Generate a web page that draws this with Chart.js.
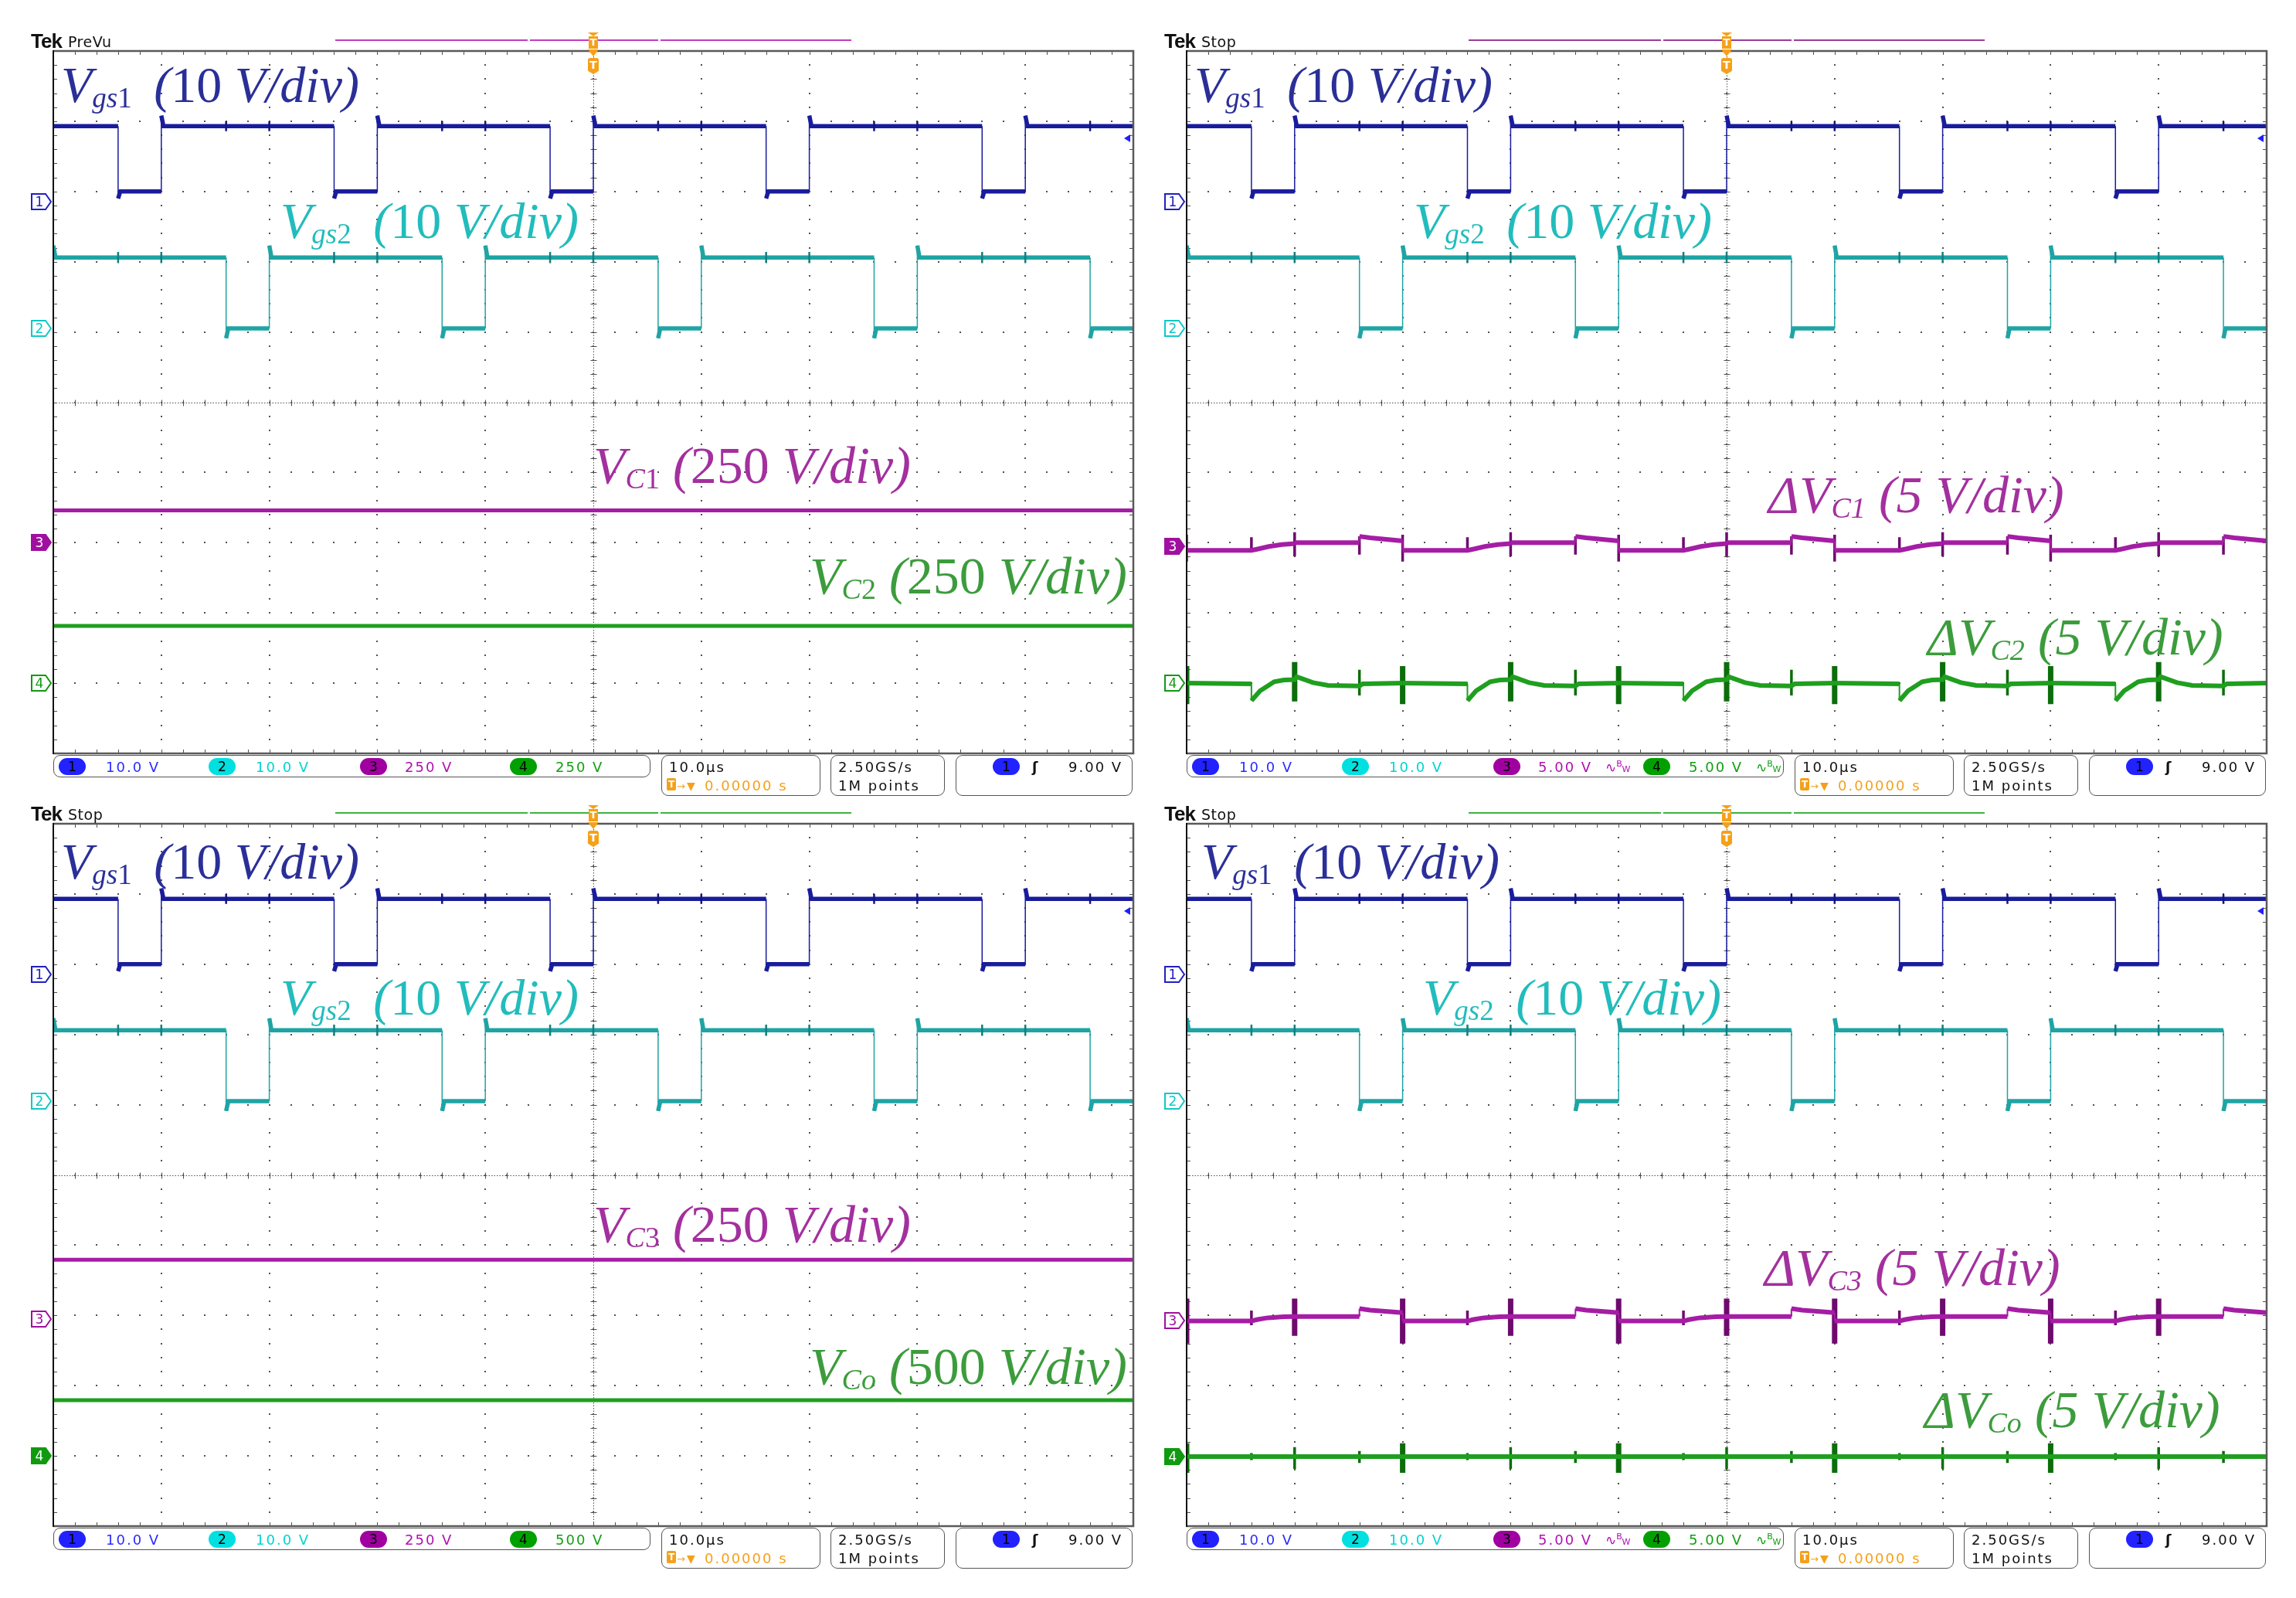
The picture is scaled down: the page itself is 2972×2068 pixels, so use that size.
<!DOCTYPE html>
<html>
<head>
<meta charset="utf-8">
<script src="https://cdn.jsdelivr.net/npm/chart.js@4.4.1/dist/chart.umd.min.js"></script>
<style>
  body { margin: 0; background: #fff; width: 2972px; height: 2068px; position: relative; overflow: hidden; font-family: "DejaVu Sans", sans-serif; }
  canvas { position: absolute; }
  .lbl { font-family: "Liberation Serif", "Times New Roman", serif; font-style: italic; }
  .lbl .up { font-style: normal; }
  .lbl .sb { font-size: 0.56em; position: relative; top: 0.2em; }
  .lbl .gap { margin-left: 12px; }
  .box { position: absolute; border: 1.5px solid #555; border-radius: 9px; box-sizing: border-box; background: #fff; }
  .pill { position: absolute; width: 35px; height: 22px; border-radius: 11px; font-size: 17px; line-height: 22px; text-align: center; color: #000; }
</style>
</head>
<body>
<script>
// time base 10 us/div with the trigger at the centre, 10 x 10 divisions
const xSpan = [-50, 50];
const ySpan = [0, 10];

// gate signals, identical in the four captures (us)
const vgs1Fall = [-44, -24, -4, 16, 36];
const vgs1Rise = [-40, -20, 0, 20, 40];
const vgs2Fall = [-34, -14, 6, 26, 46];
const vgs2Rise = [-50, -30, -10, 10, 30, 50];
const vgs1Levels = [10.7, 1.4];          // high, low (V)
const vgs2Levels = [10.1, 0];
const vgs1Ring = [12.2, 0.4];            // peak after rise, dip after fall (V)
const vgs2Ring = [11.8, -1.4];
const vgs1GlitchTimes = [-34, -30, -14, -10, 6, 10, 26, 30, 46];
const vgs1GlitchSpan = [11.4, 10.0];
const vgs2GlitchTimes = [-44, -40, -24, -20, -4, 0, 16, 20, 36, 40];
const vgs2GlitchSpan = [10.9, 9.3];

// capacitor voltages (V)
const vC1 = 115;
const vC2 = 204;
const vC3 = 211;
const vCo = 396;

// ripple of C1 (V, 5 V/div)
const dVC1 = [
  [-50, -0.3], [-44, -0.3], [-43.4, -0.2], [-42.4, -0.02], [-41.2, 0.12], [-40, 0.18], [-40, 0.25], [-34, 0.25], [-34, 0.7], [-33, 0.6], [-30, 0.38],
  [-30, -0.3], [-24, -0.3], [-23.4, -0.2], [-22.4, -0.02], [-21.2, 0.12], [-20, 0.18], [-20, 0.25], [-14, 0.25], [-14, 0.7], [-13, 0.6], [-10, 0.38],
  [-10, -0.3], [-4, -0.3], [-3.4, -0.2], [-2.4, -0.02], [-1.2, 0.12], [0, 0.18], [0, 0.25], [6, 0.25], [6, 0.7], [7, 0.6], [10, 0.38],
  [10, -0.3], [16, -0.3], [16.6, -0.2], [17.6, -0.02], [18.8, 0.12], [20, 0.18], [20, 0.25], [26, 0.25], [26, 0.7], [27, 0.6], [30, 0.38],
  [30, -0.3], [36, -0.3], [36.6, -0.2], [37.6, -0.02], [38.8, 0.12], [40, 0.18], [40, 0.25], [46, 0.25], [46, 0.7], [47, 0.6], [50, 0.38]
];
const dVC1Spikes = [
  [-50, 0.82, -1.1], [-44, 0.64, -0.3], [-40, 1.0, -0.73], [-34, 0.7, -0.6],
  [-30, 0.82, -1.1], [-24, 0.64, -0.3], [-20, 1.0, -0.73], [-14, 0.7, -0.6],
  [-10, 0.82, -1.1], [-4, 0.64, -0.3], [0, 1.0, -0.73], [6, 0.7, -0.6],
  [10, 0.82, -1.1], [16, 0.64, -0.3], [20, 1.0, -0.73], [26, 0.7, -0.6],
  [30, 0.82, -1.1], [36, 0.64, -0.3], [40, 1.0, -0.73], [46, 0.7, -0.6]
];

// ripple of C2 (V, 5 V/div)
const dVC2 = [
  [-50, 0], [-44, -0.05], [-44, -1.25], [-43.2, -0.55], [-42.5, -0.2], [-41.9, 0.1], [-41, 0.22], [-40, 0.25], [-39.8, 0.45], [-38.3, 0.04], [-36.9, -0.16], [-34, -0.2], [-33.7, -0.05], [-30, 0],
  [-30, 0], [-24, -0.05], [-24, -1.25], [-23.2, -0.55], [-22.5, -0.2], [-21.9, 0.1], [-21, 0.22], [-20, 0.25], [-19.8, 0.45], [-18.3, 0.04], [-16.9, -0.16], [-14, -0.2], [-13.7, -0.05], [-10, 0],
  [-10, 0], [-4, -0.05], [-4, -1.25], [-3.2, -0.55], [-2.5, -0.2], [-1.9, 0.1], [-1, 0.22], [0, 0.25], [0.2, 0.45], [1.7, 0.04], [3.1, -0.16], [6, -0.2], [6.3, -0.05], [10, 0],
  [10, 0], [16, -0.05], [16, -1.25], [16.8, -0.55], [17.5, -0.2], [18.1, 0.1], [19, 0.22], [20, 0.25], [20.2, 0.45], [21.7, 0.04], [23.1, -0.16], [26, -0.2], [26.3, -0.05], [30, 0],
  [30, 0], [36, -0.05], [36, -1.25], [36.8, -0.55], [37.5, -0.2], [38.1, 0.1], [39, 0.22], [40, 0.25], [40.2, 0.45], [41.7, 0.04], [43.1, -0.16], [46, -0.2], [46.3, -0.05], [50, 0]
];
const dVC2Spikes = [
  [-50, 1.22, -1.5], [-40, 1.5, -1.3], [-34, 0.95, -0.88],
  [-30, 1.22, -1.5], [-20, 1.5, -1.3], [-14, 0.95, -0.88],
  [-10, 1.22, -1.5], [0, 1.5, -1.3], [6, 0.95, -0.88],
  [10, 1.22, -1.5], [20, 1.5, -1.3], [26, 0.95, -0.88],
  [30, 1.22, -1.5], [40, 1.5, -1.3], [46, 0.95, -0.88]
];

// ripple of C3 (V, 5 V/div)
const dVC3 = [
  [-50, -0.05], [-44, -0.05], [-43.5, 0.05], [-42.5, 0.18], [-41, 0.25], [-40, 0.27], [-34, 0.27], [-34, 0.83], [-33, 0.72], [-30, 0.55],
  [-30, -0.05], [-24, -0.05], [-23.5, 0.05], [-22.5, 0.18], [-21, 0.25], [-20, 0.27], [-14, 0.27], [-14, 0.83], [-13, 0.72], [-10, 0.55],
  [-10, -0.05], [-4, -0.05], [-3.5, 0.05], [-2.5, 0.18], [-1, 0.25], [0, 0.27], [6, 0.27], [6, 0.83], [7, 0.72], [10, 0.55],
  [10, -0.05], [16, -0.05], [16.5, 0.05], [17.5, 0.18], [19, 0.25], [20, 0.27], [26, 0.27], [26, 0.83], [27, 0.72], [30, 0.55],
  [30, -0.05], [36, -0.05], [36.5, 0.05], [37.5, 0.18], [39, 0.25], [40, 0.27], [46, 0.27], [46, 0.83], [47, 0.72], [50, 0.55]
];
const dVC3Spikes = [
  [-50, 1.55, -1.65], [-44, 0.7, -0.35], [-40, 1.55, -1.1],
  [-30, 1.55, -1.65], [-24, 0.7, -0.35], [-20, 1.55, -1.1],
  [-10, 1.55, -1.65], [-4, 0.7, -0.35], [0, 1.55, -1.1],
  [10, 1.55, -1.65], [16, 0.7, -0.35], [20, 1.55, -1.1],
  [30, 1.55, -1.65], [36, 0.7, -0.35], [40, 1.55, -1.1]
];

// ripple of Co (V, 5 V/div)
const dVCo = [[-50, 0], [50, 0]];
const dVCoSpikes = [
  [-50, 0.95, -1.15], [-44, 0.25, -0.25], [-40, 0.68, -0.88], [-34, 0.4, -0.46],
  [-30, 0.95, -1.15], [-24, 0.25, -0.25], [-20, 0.68, -0.88], [-14, 0.4, -0.46],
  [-10, 0.95, -1.15], [-4, 0.25, -0.25], [0, 0.68, -0.88], [6, 0.4, -0.46],
  [10, 0.95, -1.15], [16, 0.25, -0.25], [20, 0.68, -0.88], [26, 0.4, -0.46],
  [30, 0.95, -1.15], [36, 0.25, -0.25], [40, 0.68, -0.88], [46, 0.4, -0.46]
];

// ---- helpers ----
function gateTrace(falls, rises, levels, ring) {
  const [hi, lo] = levels;
  const edges = falls.map(t => [t, false]).concat(rises.map(t => [t, true])).sort((a, b) => a[0] - b[0]);
  const pts = [];
  if (edges[0][0] > xSpan[0]) pts.push([xSpan[0], edges[0][1] ? lo : hi]);
  edges.forEach(([t, up]) => {
    if (t > xSpan[0]) pts.push([t, up ? lo : hi]);
    pts.push([t, up ? ring[0] : ring[1]]);
    pts.push([t + 0.2, up ? hi : lo]);
  });
  const last = edges[edges.length - 1];
  if (last[0] < xSpan[1]) pts.push([xSpan[1], last[1] ? hi : lo]);
  return pts;
}
function spikeTrace(list) {
  const out = [];
  list.forEach(([t, a, b]) => out.push([t, a], [t, b], [t, null]));
  return out;
}
function flat(v) { return [[xSpan[0], v], [xSpan[1], v]]; }
function toDiv(pts, ch) {
  const [perDiv, offset] = ch;
  return pts.map(([t, v]) => ({ x: t, y: v === null ? null : offset + v / perDiv }));
}
function put(x, base, size, html, css) {
  const d = document.createElement('div');
  d.style.cssText = `position:absolute;left:${x}px;top:${base - 0.84 * size}px;font-size:${size}px;line-height:${size}px;white-space:nowrap;${css || ''}`;
  d.innerHTML = html;
  document.body.appendChild(d);
  return d;
}
function rect(x, y, w, h, css) {
  const d = document.createElement('div');
  d.style.cssText = `position:absolute;left:${x}px;top:${y}px;width:${w}px;height:${h}px;${css || ''}`;
  document.body.appendChild(d);
  return d;
}

// graticule: dotted major lines, dense centre cross, tick marks on the frame
const graticule = {
  id: 'graticule',
  beforeDatasetsDraw(chart) {
    const { ctx, chartArea: a, scales: { x, y } } = chart;
    ctx.save();
    ctx.fillStyle = '#505050';
    for (let i = 0; i <= 10; i++) {
      const px = Math.round(x.getPixelForValue(xSpan[0] + i * 10));
      for (let j = 0; j <= 50; j++) {
        const py = Math.round(y.getPixelForValue(j * 0.2));
        ctx.fillRect(px - 1, py - 1, 2, 2);
      }
    }
    for (let j = 0; j <= 10; j++) {
      const py = Math.round(y.getPixelForValue(j));
      for (let i = 0; i <= 50; i++) {
        const px = Math.round(x.getPixelForValue(xSpan[0] + i * 2));
        ctx.fillRect(px - 1, py - 1, 2, 2);
      }
    }
    const cx = Math.round(x.getPixelForValue(0)) + 0.5;
    const cy = Math.round(y.getPixelForValue(5)) + 0.5;
    ctx.strokeStyle = '#505050';
    ctx.lineWidth = 1;
    ctx.setLineDash([1.5, 2]);
    ctx.beginPath();
    ctx.moveTo(cx, a.top); ctx.lineTo(cx, a.bottom);
    ctx.moveTo(a.left, cy); ctx.lineTo(a.right, cy);
    ctx.stroke();
    ctx.setLineDash([]);
    ctx.beginPath();
    for (let i = 0; i <= 50; i++) {
      const px = Math.round(x.getPixelForValue(xSpan[0] + i * 2)) + 0.5;
      ctx.moveTo(px, cy - 4); ctx.lineTo(px, cy + 4);
      ctx.moveTo(px, a.top); ctx.lineTo(px, a.top + 5);
      ctx.moveTo(px, a.bottom); ctx.lineTo(px, a.bottom - 5);
    }
    for (let j = 0; j <= 50; j++) {
      const py = Math.round(y.getPixelForValue(j * 0.2)) + 0.5;
      ctx.moveTo(cx - 4, py); ctx.lineTo(cx + 4, py);
      ctx.moveTo(a.left, py); ctx.lineTo(a.left + 5, py);
      ctx.moveTo(a.right, py); ctx.lineTo(a.right - 5, py);
    }
    ctx.stroke();
    ctx.restore();
  },
  afterDatasetsDraw(chart) {
    const { ctx, chartArea: a } = chart;
    ctx.save();
    ctx.strokeStyle = '#5a5a5a';
    ctx.lineWidth = 2.5;
    ctx.beginPath();
    ctx.moveTo(a.left, a.top); ctx.lineTo(a.right, a.top); ctx.lineTo(a.right, a.bottom); ctx.lineTo(a.left, a.bottom);
    ctx.stroke();
    ctx.strokeStyle = '#111';
    ctx.lineWidth = 2;
    ctx.beginPath();
    ctx.moveTo(a.left, a.top - 1); ctx.lineTo(a.left, a.bottom + 1);
    ctx.stroke();
    ctx.restore();
  }
};

// ---- the four captures ----
const gridW = 1398, gridH = 909, pad = 4;
const ch1 = [10, 7.86], ch2 = [10, 6.05];
const colV1 = '#191c9c', colV2 = '#1fa4a4', colC = '#a51da5', colG = '#1f9f1f';
const vgs1Label = 'V<span class="sb">gs<span class="up">1</span></span> <span class="gap">(</span><span class="up">10</span> V/div)';
const vgs2Label = 'V<span class="sb">gs<span class="up">2</span></span> <span class="gap">(</span><span class="up">10</span> V/div)';

const panels = [
  { ox: 0, oy: 0, mode: 'PreVu', bar: '#c23bc2', ch3: [250, 3.0], ch4: [250, 1.0], fill: 3,
    t3: flat(vC1), t4: flat(vC2), s3: [], s4: [], volts: ['10.0 V', '10.0 V', '250 V', '250 V'], bw: false,
    lab: [[79, 132, 66, vgs1Label], [363, 308, 66, vgs2Label],
          [768, 625, 68, 'V<span class="sb">C<span class="up">1</span></span> (<span class="up">250</span> V/div)'],
          [1048, 768, 68, 'V<span class="sb">C<span class="up">2</span></span> (<span class="up">250</span> V/div)']] },
  { ox: 1467, oy: 0, mode: 'Stop', bar: '#9b3a9b', ch3: [5, 2.95], ch4: [5, 1.0], fill: 3,
    t3: dVC1, t4: dVC2, s3: dVC1Spikes, s4: dVC2Spikes, volts: ['10.0 V', '10.0 V', '5.00 V', '5.00 V'], bw: true,
    lab: [[79, 132, 66, vgs1Label], [363, 308, 66, vgs2Label],
          [822, 663, 68, '&Delta;V<span class="sb">C1</span> (5 V/div)'],
          [1028, 847, 68, '&Delta;V<span class="sb">C2</span> (5 V/div)']] },
  { ox: 0, oy: 1000, mode: 'Stop', bar: '#3db33d', ch3: [250, 2.95], ch4: [500, 1.0], fill: 4,
    t3: flat(vC3), t4: flat(vCo), s3: [], s4: [], volts: ['10.0 V', '10.0 V', '250 V', '500 V'], bw: false,
    lab: [[79, 137, 66, vgs1Label], [363, 313, 66, vgs2Label],
          [768, 607, 68, 'V<span class="sb">C<span class="up">3</span></span> (<span class="up">250</span> V/div)'],
          [1048, 791, 68, 'V<span class="sb">Co</span> (<span class="up">500</span> V/div)']] },
  { ox: 1467, oy: 1000, mode: 'Stop', bar: '#3db33d', ch3: [5, 2.93], ch4: [5, 0.99], fill: 4,
    t3: dVC3, t4: dVCo, s3: dVC3Spikes, s4: dVCoSpikes, volts: ['10.0 V', '10.0 V', '5.00 V', '5.00 V'], bw: true,
    lab: [[88, 137, 66, vgs1Label], [375, 313, 66, vgs2Label],
          [817, 663, 68, '&Delta;V<span class="sb">C3</span> (5 V/div)'],
          [1024, 847, 68, '&Delta;V<span class="sb">Co</span> (5 V/div)']] }
];
const labelColors = ['#2a2f98', '#22bcbc', '#a3309e', '#3c9c3c'];
const pillColors = ['#2222ff', '#00e0e0', '#a000a0', '#00a000'];
const voltColors = ['#2a2aff', '#00d4d4', '#b010b0', '#10a010'];
const tagColors = ['#2020c0', '#10c8c8', '#a010a0', '#109a10'];

function edgeStyle(thin) {
  return { borderWidth: c => c.p0.parsed.x === c.p1.parsed.x ? thin : undefined };
}
// bursts: the tall ones read as wide spindles, the small ones as thin ticks
const burstStyle = {
  borderWidth: c => Math.abs(c.p0.y - c.p1.y) > 35 ? 7 : 3.5
};

panels.forEach(p => {
  const gx = p.ox + 69, gy = p.oy + 66;
  const canvas = document.createElement('canvas');
  canvas.width = gridW + 2 * pad;
  canvas.height = gridH + 2 * pad;
  canvas.style.left = (gx - pad) + 'px';
  canvas.style.top = (gy - pad) + 'px';
  document.body.appendChild(canvas);

  const ds = (data, color, width, extra) => Object.assign({
    data, borderColor: color, borderWidth: width, pointRadius: 0, fill: false,
    spanGaps: false, tension: 0, clip: 0, borderCapStyle: 'butt'
  }, extra || {});

  const chart = new Chart(canvas, {
    type: 'line',
    data: {
      datasets: [
        ds(toDiv(spikeTrace(vgs1GlitchTimes.map(t => [t, ...vgs1GlitchSpan])), ch1), '#121480', 2.5),
        ds(toDiv(gateTrace(vgs1Fall, vgs1Rise, vgs1Levels, vgs1Ring), ch1), colV1, 5.5, { segment: edgeStyle(1.5) }),
        ds(toDiv(spikeTrace(vgs2GlitchTimes.map(t => [t, ...vgs2GlitchSpan])), ch2), '#137e7e', 2.5),
        ds(toDiv(gateTrace(vgs2Fall, vgs2Rise, vgs2Levels, vgs2Ring), ch2), colV2, 5.5, { segment: edgeStyle(1.5) }),
        ds(toDiv(p.t3, p.ch3), colC, p.bw ? 6 : 5, { segment: edgeStyle(2) }),
        ds(toDiv(spikeTrace(p.s3), p.ch3), '#6e0a6e', 4, { segment: burstStyle }),
        ds(toDiv(p.t4, p.ch4), colG, p.bw ? 6 : 5, { segment: edgeStyle(2) }),
        ds(toDiv(spikeTrace(p.s4), p.ch4), '#0b6e0b', 4, { segment: burstStyle })
      ]
    },
    options: {
      responsive: false,
      animation: false,
      devicePixelRatio: 1,
      events: [],
      layout: { padding: pad },
      plugins: { legend: { display: false }, tooltip: { enabled: false } },
      scales: {
        x: { type: 'linear', min: xSpan[0], max: xSpan[1], display: false },
        y: { type: 'linear', min: ySpan[0], max: ySpan[1], display: false }
      }
    },
    plugins: [graticule]
  });

  const yPix = v => gy - pad + chart.scales.y.getPixelForValue(v);

  // header
  put(p.ox + 40, p.oy + 62, 26, 'Tek', 'font-family:"Liberation Sans",sans-serif;font-weight:bold;letter-spacing:-1px;color:#111');
  put(p.ox + 88, p.oy + 61, 19, p.mode, 'font-family:"DejaVu Sans",sans-serif;letter-spacing:0.5px;color:#111');
  [[434, 683], [686, 852], [855, 1102]].forEach(([a, b]) => rect(p.ox + a, p.oy + 51, b - a, 2, 'background:' + p.bar));

  // trigger position marker
  const tx = p.ox + 768, org = '#f5a01a';
  rect(tx - 7, p.oy + 42, 0, 0, `border-left:7px solid transparent;border-right:7px solid transparent;border-top:5px solid ${org};width:0;height:0`);
  const t1 = rect(tx - 6, p.oy + 47, 12, 16, `background:${org};color:#fff;font:bold 13px/16px "DejaVu Sans",sans-serif;text-align:center`);
  t1.textContent = 'T';
  rect(tx - 7, p.oy + 64, 0, 0, `border-left:7px solid transparent;border-right:7px solid transparent;border-top:9px solid ${org};width:0;height:0`);
  const t2 = rect(tx - 7, p.oy + 75, 14, 21, `background:${org};color:#fff;font:bold 14px/19px "DejaVu Sans",sans-serif;text-align:center;border-radius:3px 3px 0 0;clip-path:polygon(0 0,100% 0,100% 80%,50% 100%,0 80%)`);
  t2.textContent = 'T';

  // trigger level arrow (9.00 V on channel 1)
  const ty = yPix(ch1[1] + 9 / ch1[0]);
  rect(gx + gridW - 12, ty - 5, 0, 0, 'border-top:5px solid transparent;border-bottom:5px solid transparent;border-right:8px solid #2020ff;width:0;height:0');

  // channel ground tags
  [ch1, ch2, p.ch3, p.ch4].forEach((c, i) => {
    const filled = p.fill === i + 1;
    const col = tagColors[i];
    const y = yPix(c[1]);
    const d = rect(p.ox + 40, y - 11, 28, 22, '');
    d.innerHTML = `<svg width="28" height="22"><polygon points="1,1 19,1 26,11 19,21 1,21" fill="${filled ? col : '#fff'}" stroke="${col}" stroke-width="2"/>` +
      `<text x="11" y="17" font-size="17" font-family="DejaVu Sans" text-anchor="middle" fill="${filled ? '#fff' : col}">${i + 1}</text></svg>`;
  });

  // waveform captions
  p.lab.forEach(([x, b, size, html], i) => {
    const d = put(p.ox + x, p.oy + b, size, html, 'color:' + labelColors[i]);
    d.className = 'lbl';
  });

  // readout bar
  const by = p.oy + 977;
  rect(p.ox + 69, by, 773, 29, '').className = 'box';
  [93, 287, 483, 677].forEach((cx, i) => {
    const d = rect(p.ox + cx - 17, by + 4, 35, 22, 'background:' + pillColors[i]);
    d.className = 'pill';
    d.style.left = (p.ox + cx - 17) + 'px';
    d.style.top = (by + 4) + 'px';
    d.textContent = String(i + 1);
  });
  [137, 331, 524, 719].forEach((x, i) => {
    put(p.ox + x, by + 22, 18, p.volts[i], 'letter-spacing:2px;color:' + voltColors[i]);
  });
  if (p.bw) {
    [[611, 2], [806, 3]].forEach(([x, i]) => {
      put(p.ox + x, by + 22, 17, '&#8767;<span style="font-size:11px;position:relative;top:-7px">B</span><span style="font-size:11px;position:relative;top:0px">W</span>', 'color:' + voltColors[i]);
    });
  }
  rect(p.ox + 856, by, 206, 53, '').className = 'box';
  put(p.ox + 866, by + 22, 18, '10.0µs', 'letter-spacing:2px;color:#111');
  const tb = rect(p.ox + 863, by + 30, 12, 16, `background:${org};color:#fff;font:bold 12px/16px "DejaVu Sans",sans-serif;text-align:center;border-radius:2px`);
  tb.textContent = 'T';
  put(p.ox + 876, by + 45, 13, '&rarr;', 'color:' + org);
  put(p.ox + 889, by + 45, 14, '&#9660;', 'color:' + org);
  put(p.ox + 912, by + 46, 18, '0.00000 s', 'letter-spacing:2px;color:' + org);
  rect(p.ox + 1075, by, 148, 53, '').className = 'box';
  put(p.ox + 1085, by + 22, 18, '2.50GS/s', 'letter-spacing:2px;color:#111');
  put(p.ox + 1085, by + 46, 18, '1M points', 'letter-spacing:2px;color:#111');
  rect(p.ox + 1237, by, 229, 53, '').className = 'box';
  const tp = rect(p.ox + 1285, by + 4, 35, 22, 'background:' + pillColors[0]);
  tp.className = 'pill';
  tp.style.left = (p.ox + 1285) + 'px';
  tp.style.top = (by + 4) + 'px';
  tp.textContent = '1';
  put(p.ox + 1336, by + 22, 18, '&#643;', 'color:#111;font-weight:bold');
  put(p.ox + 1383, by + 22, 18, '9.00 V', 'letter-spacing:2px;color:#111');
});
</script>
</body>
</html>
